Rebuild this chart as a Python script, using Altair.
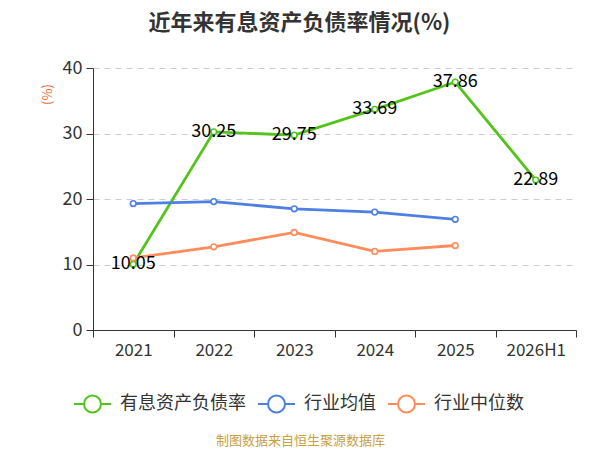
import altair as alt
import pandas as pd

years = ["2021", "2022", "2023", "2024", "2025", "2026H1"]
series_names = ["有息资产负债率", "行业均值", "行业中位数"]
debt_ratio = [10.05, 30.25, 29.75, 33.69, 37.86, 22.89]
industry_mean = [19.3, 19.6, 18.5, 18.0, 16.9]
industry_median = [11.0, 12.7, 14.9, 12.0, 12.9]
colors = ["#52c41a", "#4e7fe2", "#ff8c5a"]

rows = []
for y, v in zip(years, debt_ratio):
    rows.append({"year": y, "series": series_names[0], "value": v, "label": f"{v:.2f}"})
for y, v in zip(years, industry_mean):
    rows.append({"year": y, "series": series_names[1], "value": v, "label": ""})
for y, v in zip(years, industry_median):
    rows.append({"year": y, "series": series_names[2], "value": v, "label": ""})
df = pd.DataFrame(rows)

FONT = "Noto Sans CJK SC"

x_enc = alt.X(
    "year:N",
    sort=years,
    bandPosition=0.5,
    scale=alt.Scale(type="band", domain=years, paddingInner=0, paddingOuter=0),
    axis=alt.Axis(
        title="制图数据来自恒生聚源数据库",
        titleColor="#c9a03f",
        titleFontSize=13,
        titleFontWeight="normal",
        titleX=207,
        titleY=110,
        titleBaseline="middle",
        labelAngle=0,
        labelFontSize=17,
        labelColor="#333333",
        labelPadding=5,
        tickSize=7,
        tickBand="extent",
        tickColor="#333333",
        domainColor="#333333",
        grid=False,
    ),
)
y_enc = alt.Y(
    "value:Q",
    scale=alt.Scale(domain=[0, 40], nice=False),
    axis=alt.Axis(
        values=[0, 10, 20, 30, 40],
        title="(%)",
        titleColor="#ee6a3a",
        titleFontSize=13,
        titleFontWeight="normal",
        titleX=-46,
        titleY=26,
        titleAlign="center",
        titleBaseline="middle",
        titleAngle=270,
        labelFontSize=18,
        labelColor="#333333",
        labelPadding=4,
        tickSize=7,
        tickColor="#333333",
        domainColor="#333333",
        grid=True,
        gridDash=[6, 5],
        gridColor="#cccccc",
        gridWidth=1,
    ),
)
color_enc = alt.Color(
    "series:N",
    scale=alt.Scale(domain=series_names, range=colors),
    sort=series_names,
    legend=alt.Legend(
        title=None,
        orient="none",
        direction="horizontal",
        legendX=-20,
        legendY=316,
        symbolType="M-1,0L-0.46,0M0.46,0L1,0M0.46,0A0.46,0.46,0,1,1,-0.46,0A0.46,0.46,0,1,1,0.46,0",
        symbolSize=1369,
        symbolStrokeWidth=2,
        symbolFillColor="white",
        labelFontSize=18,
        labelColor="#333333",
        labelOffset=8,
        columnPadding=8,
        labelFont=FONT,
    ),
)

base = alt.Chart(df).encode(x=x_enc, y=y_enc)

lines = base.mark_line(strokeWidth=2.8).encode(color=color_enc)
points = base.mark_point(filled=False, fill="white", size=32, strokeWidth=1.6, opacity=1).encode(color=color_enc)
labels = base.transform_filter(alt.datum.label != "").mark_text(
    fontSize=18, color="#000000", align="center", baseline="middle", font=FONT
).encode(text="label:N")

chart = (
    alt.layer(lines, points, labels)
    .properties(
        width=483,
        height=262,
        padding={"left": 85, "top": 60, "right": 16, "bottom": 118},
        autosize=alt.AutoSizeParams(type="none"),
        title=alt.TitleParams(
            text="近年来有息资产负债率情况(%)",
            fontSize=22,
            fontWeight="bold",
            color="#333333",
            anchor="middle",
            frame="group",
            dx=-35,
            offset=24,
            font=FONT,
        ),
    )
    .configure(font=FONT)
    .configure_view(stroke=None)
)

chart.save("out.html", embed_options={"renderer": "svg", "actions": False})
